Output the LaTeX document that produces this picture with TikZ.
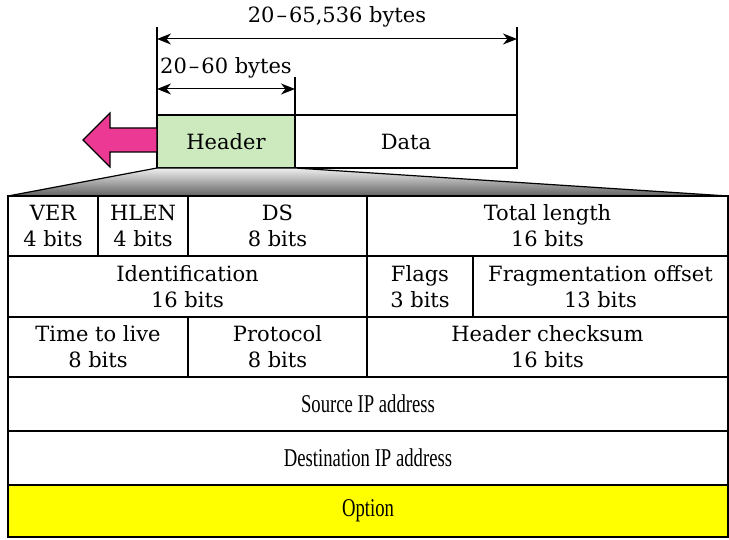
\documentclass[tikz,border=0pt]{standalone}
\usepackage{fontspec}
\setmainfont{DejaVu Serif}
\newfontfamily\condfont[FakeStretch=0.73]{Liberation Serif}
\usetikzlibrary{calc,arrows.meta}

\definecolor{hdrgreen}{RGB}{204,234,190}
\definecolor{arrowpink}{RGB}{236,58,148}
\definecolor{optyellow}{RGB}{255,255,0}

\tikzset{
  celltext/.style={inner sep=0pt,align=center,font=\fontsize{10.5}{13}\selectfont},
  addrtext/.style={inner sep=0pt,font=\condfont\fontsize{12.8}{15}\selectfont},
  dim/.style={line width=0.5pt,{Stealth[length=7pt,width=5.5pt,inset=2.2pt]}-{Stealth[length=7pt,width=5.5pt,inset=2.2pt]}},
}

\begin{document}
\begin{tikzpicture}[x=0.5pt,y=-0.5pt,line width=0.6pt]
  \useasboundingbox (0,0) rectangle (729,540);

  % datagram
  \draw[fill=hdrgreen] (157,115) rectangle (295,168);
  \draw (295,115) rectangle (517,168);
  \node[celltext] (header) at (226,141.5) {Header};
  \node[celltext] (data) at (406,141.5) {Data};

  \draw[fill=arrowpink] (157,128) -- (110,128) -- (110,113) -- (83,140)
    -- (110,167) -- (110,152) -- (157,152) -- cycle;

  % length marks
  \coordinate (ltop) at (157,27);
  \coordinate (rtop) at (517,27);
  \coordinate (mtop) at (295,77);
  \draw (157,115) -- (ltop);
  \draw (517,115) -- (rtop);
  \draw (295,115) -- (mtop);

  \coordinate (allL) at (157,39);
  \coordinate (allR) at (517,39);
  \coordinate (hdrL) at (157,89);
  \coordinate (hdrR) at (295,89);
  \draw[dim] (allL) -- (allR);
  \draw[dim] (hdrL) -- (hdrR);
  \node[celltext] (allbytes) at (337,17) {20\kern1pt–\kern1pt65,536 bytes};
  \node[celltext] (hdrbytes) at (226,68) {20\kern1pt–\kern1pt60 bytes};

  % zoom wedge
  \draw[top color=black!6,bottom color=black!62]
    (157,168) -- (295,168) -- (728,196) -- (8,196) -- cycle;

  % header fields
  \draw (8,196) rectangle (98,256)   (98,196) rectangle (188,256)
        (188,196) rectangle (367,256) (367,196) rectangle (728,256);
  \node[celltext] (ver) at (53,226) {VER\\4 bits};
  \node[celltext] (hlen) at (143,226) {HLEN\\4 bits};
  \node[celltext] (ds) at (277.5,226) {DS\\8 bits};
  \node[celltext] (totlen) at (547.5,226) {Total length\\16 bits};

  \draw (8,256) rectangle (367,317) (367,256) rectangle (473,317)
        (473,256) rectangle (728,317);
  \node[celltext] (ident) at (187.5,286.5) {Identification\\16 bits};
  \node[celltext] (flags) at (420,286.5) {Flags\\3 bits};
  \node[celltext] (fragoff) at (600.5,286.5) {Fragmentation offset\\13 bits};

  \draw (8,317) rectangle (188,377) (188,317) rectangle (367,377)
        (367,317) rectangle (728,377);
  \node[celltext] (ttl) at (98,347) {Time to live\\8 bits};
  \node[celltext] (proto) at (277.5,347) {Protocol\\8 bits};
  \node[celltext] (chksum) at (547.5,347) {Header checksum\\16 bits};

  \draw (8,377) rectangle (728,431) (8,431) rectangle (728,485);
  \draw[fill=optyellow] (8,485) rectangle (728,537);
  \node[addrtext] (srcip) at (368,404) {Source IP address};
  \node[addrtext] (dstip) at (368,458) {Destination IP address};
  \node[addrtext] (option) at (368,511) {Option};
\end{tikzpicture}
\end{document}
